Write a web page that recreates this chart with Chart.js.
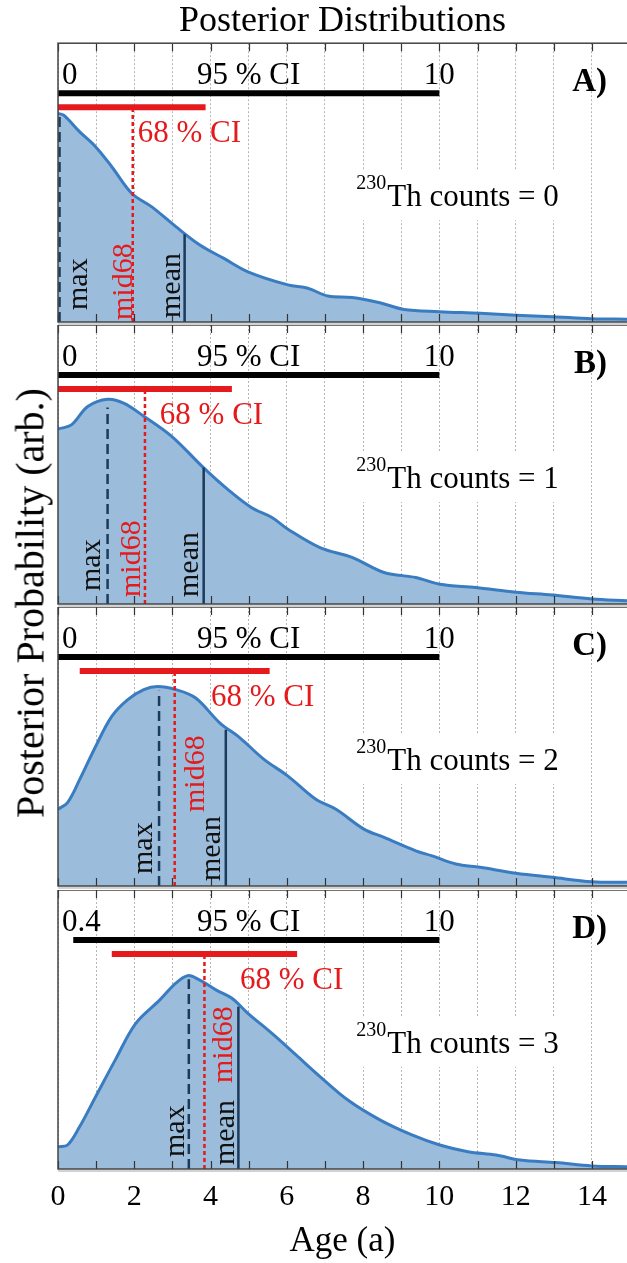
<!DOCTYPE html>
<html lang="en">
<head>
<meta charset="UTF-8">
<title>Posterior Distributions</title>
<script src="https://cdn.jsdelivr.net/npm/chart.js"></script>
<style>
  body { margin: 0; background: #fff; }
  #wrap { position: relative; width: 627px; height: 1263px; overflow: hidden; }
  #wrap canvas { position: absolute; left: 0; }
  #ytitle {
    position: absolute; left: 30px; top: 603px;
    transform: translate(-50%, -50%) rotate(-90deg);
    font-family: 'Liberation Serif', 'Times New Roman', serif;
    font-size: 40px; white-space: nowrap; color: #000;
  }
</style>
</head>
<body>
<div id="wrap">
  <canvas id="pA" width="627" height="325" style="top:0px"></canvas>
  <canvas id="pB" width="627" height="282" style="top:325px"></canvas>
  <canvas id="pC" width="627" height="283" style="top:607px"></canvas>
  <canvas id="pD" width="627" height="373" style="top:890px"></canvas>
  <div id="ytitle">Posterior Probability (arb.)</div>
</div>
<script>
// posterior curves (age in a, probability in arbitrary units, 100 = panel top)
const ageA = [0, 0.15, 0.57, 0.99, 1.41, 1.93, 2.46, 3.09, 3.72, 4.35, 4.98, 6.03, 6.55, 7.08, 7.71, 8.44, 9.07, 10.0, 11.07, 12.01, 12.96, 14.0, 14.92];
const probA = [74.8, 74.2, 68.2, 62.8, 55.7, 46.2, 41.3, 34.2, 27.6, 22.8, 18.0, 13.3, 12.1, 9.3, 8.8, 6.9, 4.5, 3.7, 3.1, 2.4, 1.9, 1.2, 1.0];
const ageB = [0, 0.36, 0.78, 1.30, 1.72, 2.25, 2.98, 3.82, 4.45, 5.08, 5.61, 6.03, 6.87, 7.71, 8.55, 9.38, 10.01, 10.96, 12.01, 12.96, 14.0, 14.92];
const probB = [62.7, 64.3, 70.8, 73.4, 72.0, 67.3, 60.1, 48.8, 41.1, 34.5, 31.0, 26.8, 20.2, 16.7, 11.3, 9.5, 7.1, 5.9, 4.2, 3.2, 1.8, 1.2];
const ageC = [0, 0.25, 0.57, 0.99, 1.41, 1.83, 2.25, 2.61, 3.09, 3.61, 4.24, 4.77, 5.40, 6.03, 6.76, 7.29, 8.02, 8.55, 9.38, 9.81, 10.43, 11.07, 12.01, 12.96, 14.0, 14.92];
const probC = [27.5, 29.9, 38.2, 50.1, 60.8, 66.8, 70.4, 71.5, 70.4, 67.4, 58.5, 53.1, 45.4, 39.4, 31.1, 27.5, 20.4, 17.4, 12.6, 10.8, 7.9, 6.7, 4.6, 3.1, 1.5, 1.3];
const ageD = [0, 0.25, 0.57, 0.99, 1.51, 2.04, 2.67, 3.09, 3.40, 3.72, 4.14, 4.56, 4.98, 5.61, 6.24, 6.87, 7.60, 8.44, 9.28, 10.01, 10.75, 11.49, 12.12, 13.06, 14.0, 14.92];
const probD = [8.0, 8.6, 15.2, 26.0, 39.3, 52.2, 60.6, 66.6, 69.3, 67.7, 64.2, 61.2, 55.8, 48.6, 40.9, 33.1, 24.7, 17.6, 12.2, 8.6, 6.2, 5.0, 3.2, 2.3, 1.1, 0.8];

// summary statistics per panel
const panelTags = ['A)', 'B)', 'C)', 'D)'];
const thCounts = [0, 1, 2, 3];
const ci95Lo = [0, 0, 0, 0.4];
const ci95Hi = [10, 10, 10, 10];
const ci68Lo = [0, 0, 0.57, 1.41];
const ci68Hi = [3.87, 4.56, 5.55, 6.27];
const maxAge = [0.04, 1.30, 2.65, 3.43];
const maxProb = [74.5, 70.4, 70.0, 68.0];
const mid68Age = [1.96, 2.28, 3.06, 3.84];
const meanAge = [3.32, 3.82, 4.40, 4.73];
const meanProb = [31.5, 48.9, 56.0, 58.2];
const xTicks = [0, 2, 4, 6, 8, 10, 12, 14];

// label placement (age units / px from panel bottom)
const maxLabelAt = [[0.75, 12], [1.09, 13], [2.46, 12], [3.30, 12]];
const midLabelAt = [[1.93, 2], [2.14, 7], [3.82, 74], [4.56, 86]];
const meanLabelAt = [[3.19, 4], [3.66, 7], [4.24, 5], [4.61, 4]];
const ci68LabelAge = [2.09, 2.67, 4.01, 4.77];

const SERIF = "'Liberation Serif', 'Times New Roman', serif";
const RED = '#e41a1c';
const NAVY = '#1c3a5c';
const BAR95 = 100 * (1 - 50 / 279);
const BAR68 = 100 * (1 - 64 / 279);

Chart.defaults.elements.point.radius = 0;
Chart.defaults.animation = false;

function pts(xs, ys) {
    return xs.map((v, k) => ({x: v, y: ys[k]}));
}

const curves = [pts(ageA, probA), pts(ageB, probB), pts(ageC, probC), pts(ageD, probD)];

const overlay = {
    id: 'overlay',
    afterDatasetsDraw(chart, args, opts) {
        const i = opts.panel;
        const {ctx, chartArea: a} = chart;
        const x = chart.scales.x;
        ctx.save();

        // inward ticks top and bottom
        ctx.strokeStyle = '#333';
        ctx.lineWidth = 1.2;
        for (let v = 0; v <= 14; v++) {
            const px = Math.round(x.getPixelForValue(v)) + 0.5;
            ctx.beginPath();
            ctx.moveTo(px, a.top); ctx.lineTo(px, a.top + 8);
            ctx.moveTo(px, a.bottom); ctx.lineTo(px, a.bottom - 8);
            ctx.stroke();
        }
        // panel frame
        ctx.strokeStyle = '#444';
        ctx.lineWidth = 1.5;
        ctx.strokeRect(a.left, a.top, a.right - a.left + 10, a.bottom - a.top);
        ctx.fillStyle = '#d2d2d2';
        ctx.fillRect(a.left, a.bottom + 1, a.right - a.left, 2);

        // 95 % CI labels
        ctx.fillStyle = '#000';
        ctx.font = '31px ' + SERIF;
        ctx.textBaseline = 'middle';
        ctx.textAlign = 'left';
        ctx.fillText(String(ci95Lo[i]), a.left + 4, a.top + 33);
        ctx.textAlign = 'center';
        ctx.fillText('95 % CI', x.getPixelForValue(5), a.top + 33);
        ctx.fillText(String(ci95Hi[i]), x.getPixelForValue(ci95Hi[i]), a.top + 33);

        // panel tag
        ctx.font = 'bold 33px ' + SERIF;
        ctx.textAlign = 'right';
        ctx.fillText(panelTags[i], 607, a.top + 39);

        // 68 % CI label
        ctx.fillStyle = RED;
        ctx.font = '31px ' + SERIF;
        ctx.textAlign = 'left';
        ctx.fillText('68 % CI', x.getPixelForValue(ci68LabelAge[i]), a.top + 91);

        // 230Th counts label on white box
        const sx = x.getPixelForValue(7.82);
        ctx.font = '20px ' + SERIF;
        const supW = ctx.measureText('230').width;
        ctx.font = '31px ' + SERIF;
        const mainTxt = 'Th counts = ' + thCounts[i];
        const mainW = ctx.measureText(mainTxt).width;
        ctx.fillStyle = '#fff';
        ctx.fillRect(sx - 4, a.top + 127, supW + mainW + 9, 50);
        ctx.fillStyle = '#000';
        ctx.textBaseline = 'alphabetic';
        ctx.font = '20px ' + SERIF;
        ctx.fillText('230', sx, a.top + 146);
        ctx.font = '31px ' + SERIF;
        ctx.fillText(mainTxt, sx + supW + 1, a.top + 163);

        // rotated marker labels
        const vlabel = (txt, at, color) => {
            ctx.save();
            ctx.translate(x.getPixelForValue(at[0]), a.bottom - at[1]);
            ctx.rotate(-Math.PI / 2);
            ctx.fillStyle = color;
            ctx.font = '30px ' + SERIF;
            ctx.textAlign = 'left';
            ctx.textBaseline = 'alphabetic';
            ctx.fillText(txt, 0, 0);
            ctx.restore();
        };
        ctx.beginPath();
        ctx.rect(a.left, a.top, a.right - a.left, a.bottom - a.top);
        ctx.clip();
        vlabel('max', maxLabelAt[i], '#111');
        vlabel('mid68', midLabelAt[i], RED);
        vlabel('mean', meanLabelAt[i], '#111');
        ctx.restore();
    }
};

function makePanel(id, i) {
    const last = i === 3;
    const first = i === 0;
    const canvas = document.getElementById(id);
    const datasets = [
        {data: [{x: ci95Lo[i], y: BAR95}, {x: ci95Hi[i], y: BAR95}], borderColor: '#000', borderWidth: 6, borderCapStyle: 'butt', order: 1},
        {data: [{x: ci68Lo[i], y: BAR68}, {x: ci68Hi[i], y: BAR68}], borderColor: RED, borderWidth: 6, borderCapStyle: 'butt', order: 1},
        {data: [{x: mid68Age[i], y: 0}, {x: mid68Age[i], y: BAR68}], borderColor: RED, borderWidth: 2.5, borderDash: [4, 3], order: 2},
        {data: [{x: maxAge[i], y: 0}, {x: maxAge[i], y: maxProb[i]}], borderColor: NAVY, borderWidth: 2.5, borderDash: [10, 5], order: 3},
        {data: [{x: meanAge[i], y: 0}, {x: meanAge[i], y: meanProb[i]}], borderColor: NAVY, borderWidth: 2.5, order: 3},
        {data: curves[i], borderColor: '#3a7cc1', backgroundColor: '#9bbddb', borderWidth: 3,
         fill: 'origin', tension: 0.35, order: 10}
    ];
    return new Chart(canvas, {
        type: 'line',
        data: {datasets: datasets},
        options: {
            responsive: false,
            events: [],
            layout: {padding: {left: 58, right: 0, top: 0, bottom: last ? 0 : canvas.height - 279 - (first ? 43 : 0)}},
            scales: {
                x: {
                    type: 'linear', min: 0, max: 14.92,
                    afterFit: (s) => { s.height = last ? 94 : 0; },
                    grid: {color: '#b5b5b5', lineWidth: 1, drawTicks: false},
                    border: {display: false, dash: [2, 2]},
                    ticks: {
                        display: last, stepSize: 1, includeBounds: false, autoSkip: false, maxRotation: 0,
                        padding: 10, color: '#000', font: {family: SERIF, size: 30},
                        callback: (v) => xTicks.includes(v) ? String(v) : ''
                    },
                    title: {display: last, text: 'Age (a)', color: '#000',
                            font: {family: SERIF, size: 35}, padding: {top: 0, bottom: 0}}
                },
                y: {display: false, min: 0, max: 100}
            },
            plugins: {
                legend: {display: false},
                tooltip: {enabled: false},
                title: {display: first, text: 'Posterior Distributions', fullSize: false, color: '#000',
                        font: {family: SERIF, size: 36, weight: 'normal'}, padding: {top: 0, bottom: 0}},
                overlay: {panel: i}
            }
        },
        plugins: [overlay]
    });
}

makePanel('pA', 0);
makePanel('pB', 1);
makePanel('pC', 2);
makePanel('pD', 3);
</script>
</body>
</html>
